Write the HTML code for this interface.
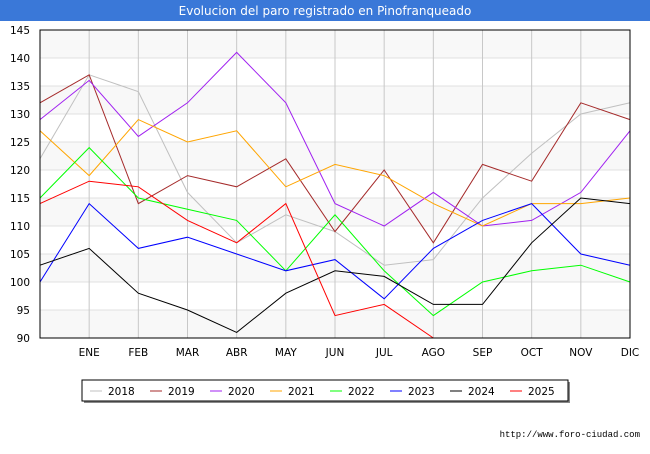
<!DOCTYPE html>
<html><head><meta charset="utf-8"><style>
body{margin:0;width:650px;height:450px;background:#fff;font-family:"DejaVu Sans","Liberation Sans",sans-serif;overflow:hidden}
</style></head><body>
<svg width="650" height="450">
<rect x="0" y="0" width="650" height="21" fill="#3a78d8"/>
<text x="325" y="15" text-anchor="middle" font-size="12" fill="#fff">Evolucion del paro registrado en Pinofranqueado</text>
<g id="bands"></g><g id="grid"></g><g id="series"></g>
<rect x="40" y="30" width="590" height="308" fill="none" stroke="#000"/>
<g id="axes" font-size="10.5" fill="#000"></g>
<g id="legend"></g>
<text x="640" y="437" text-anchor="end" font-size="9" font-family="Liberation Mono, monospace">http://www.foro-ciudad.com</text>
</svg>
<script>
const months=["","ENE","FEB","MAR","ABR","MAY","JUN","JUL","AGO","SEP","OCT","NOV","DIC"];
const yTicks=[90,95,100,105,110,115,120,125,130,135,140,145];
const years=["2018","2019","2020","2021","2022","2023","2024","2025"];
const colors=["#c0c0c0","#a52a2a","#a020f0","#ffa500","#00ff00","#0000ff","#000000","#ff0000"];
const s2018=[122,137,134,116,107,112,109,103,104,115,123,130,132];
const s2019=[132,137,114,119,117,122,109,120,107,121,118,132,129];
const s2020=[129,136,126,132,141,132,114,110,116,110,111,116,127];
const s2021=[127,119,129,125,127,117,121,119,114,110,114,114,115];
const s2022=[115,124,115,113,111,102,112,102,94,100,102,103,100];
const s2023=[100,114,106,108,105,102,104,97,106,111,114,105,103];
const s2024=[103,106,98,95,91,98,102,101,96,96,107,115,114];
const s2025=[114,118,117,111,107,114,94,96,90];
const allSeries=[s2018,s2019,s2020,s2021,s2022,s2023,s2024,s2025];
const NS="http://www.w3.org/2000/svg";
const X=i=>40+i*590/12, Y=v=>338-(v-90)*308/55;
function mk(t,a,p){const e=document.createElementNS(NS,t);for(const k in a)e.setAttribute(k,a[k]);p.appendChild(e);return e;}
const bands=document.getElementById('bands'),grid=document.getElementById('grid'),axes=document.getElementById('axes');
for(let i=0;i<yTicks.length-1;i++){if(i%2==0){const r=mk('rect',{x:40,y:Y(yTicks[i+1]),width:590,height:Y(yTicks[i])-Y(yTicks[i+1]),fill:'#f8f8f8'},bands);

}}
yTicks.forEach(v=>{const l=mk('line',{x1:40,x2:630,y1:Y(v),y2:Y(v),stroke:'#e0e0e0'},grid);


const t=mk('text',{x:30,y:Y(v)+4,'text-anchor':'end'},axes);t.textContent=v;

});
months.forEach((m,i)=>{if(i>0){const l=mk('line',{x1:X(i),x2:X(i),y1:30,y2:338,stroke:'#c8c8c8'},grid);

}
if(m){const t=mk('text',{x:X(i),y:356,'text-anchor':'middle'},axes);t.textContent=m;

}});
const sg=document.getElementById('series');
allSeries.forEach((s,k)=>{const p=mk('polyline',{points:s.map((v,i)=>X(i)+','+Y(v)).join(' '),fill:'none',stroke:colors[k],'stroke-width':1},sg);

});
const lg=document.getElementById('legend');
const sh=mk('rect',{x:84,y:382,width:486,height:21,fill:'#888'},lg);


const box=mk('rect',{x:82,y:380,width:486,height:21,fill:'#fff',stroke:'#000'},lg);


years.forEach((y,k)=>{const x0=90+k*60;
const l=mk('line',{x1:x0,x2:x0+12,y1:391,y2:391,stroke:colors[k],'stroke-width':1},lg);


const t=mk('text',{x:x0+18,y:395,'font-size':10.5},lg);t.textContent=y;

});
</script>
</body></html>
